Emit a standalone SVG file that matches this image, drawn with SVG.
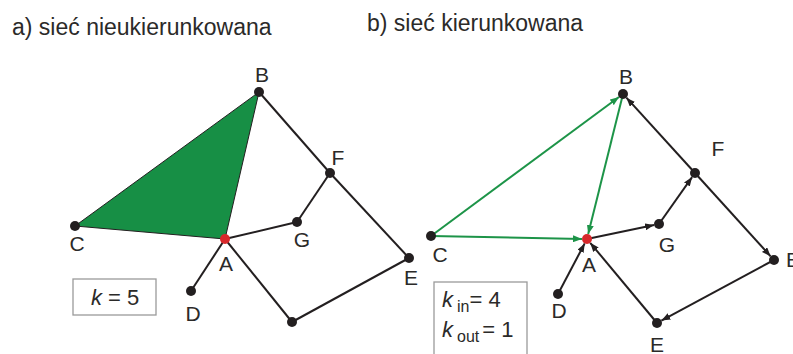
<svg xmlns="http://www.w3.org/2000/svg" width="793" height="354" viewBox="0 0 793 354">
<style>
text{font-family:"Liberation Sans",Arial,sans-serif;fill:#2b2a29}
.title{font-size:23px}
.lbl{font-size:21px;text-anchor:middle}
.k{font-size:22px}
.it{font-style:italic}
.sub{font-size:16px}
.e{stroke:#231f20;stroke-width:2;fill:none}
.g{stroke:#1d9448;stroke-width:2;fill:none}
.n{fill:#231f20}
.r{fill:#d7282b}
.box{fill:#fff;stroke:#9a9a9a;stroke-width:1.3}
.ae{marker-end:url(#ab)}
.ag{marker-end:url(#ag)}
</style>
<defs>
<marker id="ab" markerUnits="userSpaceOnUse" markerWidth="9" markerHeight="7" refX="9" refY="3.5" orient="auto"><path d="M0,0 L9,3.5 L0,7 z" fill="#231f20"/></marker>
<marker id="ag" markerUnits="userSpaceOnUse" markerWidth="9" markerHeight="7" refX="9" refY="3.5" orient="auto"><path d="M0,0 L9,3.5 L0,7 z" fill="#1d9448"/></marker>
</defs>
<rect width="793" height="354" fill="#fff"/>
<text class="title" x="12" y="35">a) sieć nieukierunkowana</text>
<text class="title" x="367" y="31">b) sieć kierunkowana</text>

<g id="connectors-a">
<polygon points="259,92 75,226 225,239" fill="#178f45" stroke="#231f20" stroke-width="1"/>
<line class="e" x1="259" y1="92" x2="330" y2="173"/>
<line class="e" x1="330" y1="173" x2="297" y2="222"/>
<line class="e" x1="297" y1="222" x2="225" y2="239"/>
<line class="e" x1="330" y1="173" x2="409" y2="258"/>
<line class="e" x1="409" y1="258" x2="292" y2="322"/>
<line class="e" x1="292" y1="322" x2="225" y2="239"/>
<line class="e" x1="225" y1="239" x2="191" y2="291"/>
</g>
<g id="a-B"><circle class="n" cx="259" cy="92" r="5"/><text class="lbl" x="262" y="82">B</text></g>
<g id="a-F"><circle class="n" cx="330" cy="173" r="5"/><text class="lbl" x="338" y="165">F</text></g>
<g id="a-G"><circle class="n" cx="297" cy="222" r="5"/><text class="lbl" x="302" y="247">G</text></g>
<g id="a-C"><circle class="n" cx="75" cy="226" r="5"/><text class="lbl" x="77" y="251">C</text></g>
<g id="a-A"><circle class="r" cx="225" cy="239" r="5"/><text class="lbl" x="226" y="271">A</text></g>
<g id="a-D"><circle class="n" cx="191" cy="291" r="5"/><text class="lbl" x="193" y="321">D</text></g>
<g id="a-E"><circle class="n" cx="409" cy="258" r="5"/><text class="lbl" x="411" y="285">E</text></g>
<g id="a-H"><circle class="n" cx="292" cy="322" r="5"/></g>
<g id="a-box"><rect class="box" x="73" y="279" width="83" height="36"/><text class="k" x="91" y="305"><tspan class="it">k</tspan> = 5</text></g>

<g id="connectors-b">
<line class="g ag" x1="431" y1="236" x2="619" y2="97"/>
<line class="g ag" x1="623" y1="94" x2="588.2" y2="234.1"/>
<line class="g ag" x1="431" y1="236" x2="582" y2="238.9"/>
<line class="e ae" x1="587" y1="239" x2="654.1" y2="225"/>
<line class="e ae" x1="659" y1="224" x2="692.1" y2="177.1"/>
<line class="e ae" x1="695" y1="173" x2="626.4" y2="97.7"/>
<line class="e ae" x1="695" y1="173" x2="770.6" y2="256.3"/>
<line class="e ae" x1="774" y1="260" x2="661.4" y2="320.6"/>
<line class="e ae" x1="657" y1="323" x2="590.2" y2="242.8"/>
<line class="e ae" x1="558" y1="294" x2="584.7" y2="243.4"/>
</g>
<g id="b-B"><circle class="n" cx="623" cy="94" r="5"/><text class="lbl" x="626" y="84">B</text></g>
<g id="b-F"><circle class="n" cx="695" cy="173" r="5"/><text class="lbl" x="718" y="156">F</text></g>
<g id="b-G"><circle class="n" cx="659" cy="224" r="5"/><text class="lbl" x="667" y="252">G</text></g>
<g id="b-C"><circle class="n" cx="431" cy="236" r="5"/><text class="lbl" x="440" y="262">C</text></g>
<g id="b-A"><circle class="r" cx="587" cy="239" r="5"/><text class="lbl" x="589" y="272">A</text></g>
<g id="b-D"><circle class="n" cx="558" cy="294" r="5"/><text class="lbl" x="559" y="318">D</text></g>
<g id="b-E2"><circle class="n" cx="774" cy="260" r="5"/><text x="786" y="267" style="font-size:21px">E</text></g>
<g id="b-E"><circle class="n" cx="657" cy="323" r="5"/><text class="lbl" x="657" y="352">E</text></g>
<g id="b-box"><rect class="box" x="434" y="282" width="93" height="80"/>
<text class="k" x="442" y="307"><tspan class="it">k</tspan><tspan class="sub" dx="4" dy="5">in</tspan><tspan dy="-5">= 4</tspan></text>
<text class="k" x="442" y="337"><tspan class="it">k</tspan><tspan class="sub" dx="4" dy="5">out</tspan><tspan dy="-5" dx="3">= 1</tspan></text>
</g>
</svg>
